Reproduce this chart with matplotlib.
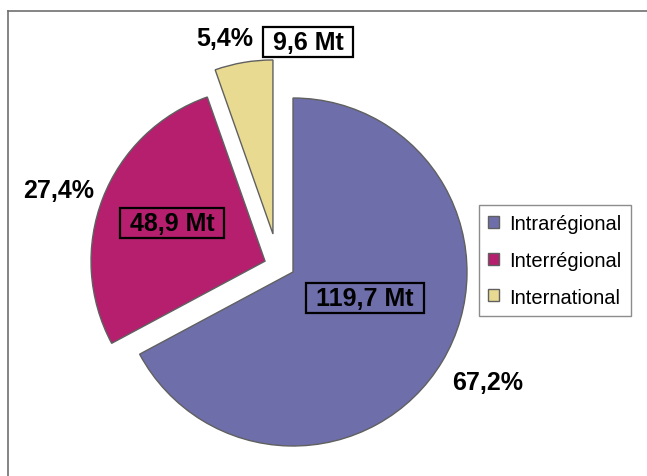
import numpy as np
import matplotlib
matplotlib.use("Agg")
import matplotlib.pyplot as plt
from matplotlib.lines import Line2D

# ---- data ----
categories = ["Intrarégional", "Interrégional", "International"]
volumes_mt = [119.7, 48.9, 9.6]
percents = [67.2, 27.4, 5.4]

# ---- style ----
colors = ["#6e6eab", "#b51f6e", "#e9da91"]
edge_color = "#606060"
W, H = 647, 477
cx, cy_down, R = 293, 273, 174
explode_px = [0.0, 30.0, 43.0]        # pie explode is in data units (pixels here)
explode_dir = [None, None, 117.8]     # direction override (deg) for the yellow wedge

pct_pos = [(488, 383), (59, 191), (225, 39)]      # pixel positions (y down)
val_pos = [(365, 299), (172, 224), (308, 43)]

def fy(y):
    return H - y

fig = plt.figure(figsize=(W / 100, H / 100), dpi=100)
ax = fig.add_axes([0, 0, 1, 1])

wedges, _ = ax.pie(
    volumes_mt,
    colors=colors,
    startangle=90,
    counterclock=False,
    radius=R,
    center=(cx, fy(cy_down)),
    explode=explode_px,
    wedgeprops=dict(edgecolor=edge_color, linewidth=1.0),
    frame=True,
)
ax.set_xlim(0, W)
ax.set_ylim(0, H)
ax.axis("off")

for w, e, d in zip(wedges, explode_px, explode_dir):
    if d is not None:
        w.set_center((cx + e * np.cos(np.radians(d)),
                      fy(cy_down) + e * np.sin(np.radians(d))))

font = "Liberation Sans"
for p, (x, y) in zip(percents, pct_pos):
    ax.text(x, fy(y), f"{p:.1f}%".replace(".", ","), ha="center", va="center",
            fontsize=18, fontweight="bold", family=font, color="black")

val_texts = []
for v, (x, y) in zip(volumes_mt, val_pos):
    t = ax.text(x, fy(y), " " + f"{v:.1f} Mt".replace(".", ",") + " ", ha="center",
                va="center", fontsize=18, fontweight="bold", family=font, color="black",
                bbox=dict(boxstyle="square,pad=0.12", facecolor="none",
                          edgecolor="black", linewidth=1.6))
    val_texts.append(t)
val_texts[-1].get_bbox_patch().set_facecolor("white")

# outer frame
fig.add_artist(Line2D([8 / W, 1.0], [1 - 12 / H, 1 - 12 / H], color="#707070", lw=1.2))
fig.add_artist(Line2D([8 / W, 8 / W], [0.0, 1 - 12 / H], color="#707070", lw=1.2))

handles = [plt.Rectangle((0, 0), 1, 1, facecolor=c, edgecolor="#606060", lw=1.0) for c in colors]
leg = fig.legend(handles, categories, loc="upper left",
                 bbox_to_anchor=(479 / W, 1 - 206 / H), borderaxespad=0,
                 prop=dict(family=font, size=14.5), frameon=True, fancybox=False,
                 edgecolor="#707070", handlelength=0.55, handleheight=0.55,
                 handletextpad=0.5, labelspacing=0.88, borderpad=0.45)
leg.get_frame().set_linewidth(1.0)

fig.savefig("out.png", dpi=100)
